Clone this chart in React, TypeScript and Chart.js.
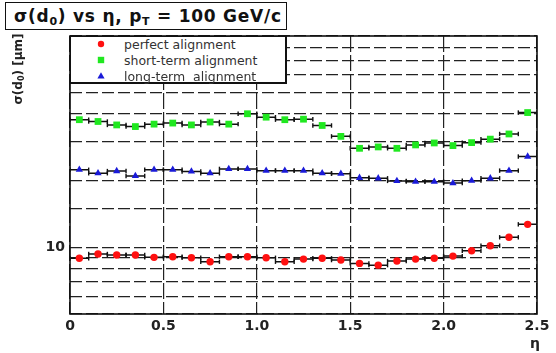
import React, { useEffect, useRef } from 'react';
import { Chart, registerables } from 'chart.js';

Chart.register(...registerables);

const etaBins = [0.05, 0.15, 0.25, 0.35, 0.45, 0.55, 0.65, 0.75, 0.85, 0.95, 1.05, 1.15, 1.25, 1.35, 1.45, 1.55, 1.65, 1.75, 1.85, 1.95, 2.05, 2.15, 2.25, 2.35, 2.45];
const binHalfWidth = 0.05;
const perfectAlignment = [8.92, 9.33, 9.23, 9.23, 9.01, 9.07, 8.97, 8.61, 9.07, 9.07, 8.97, 8.61, 8.85, 8.92, 8.76, 8.46, 8.31, 8.67, 8.85, 8.92, 9.13, 9.65, 10.17, 11.1, 12.7];
const shortTermAlignment = [37.7, 37.0, 35.7, 35.1, 36.0, 36.4, 35.7, 36.8, 36.0, 40.1, 38.7, 37.7, 37.9, 35.5, 31.7, 28.0, 28.4, 28.0, 29.0, 29.6, 28.8, 29.7, 30.8, 32.5, 40.6];
const longTermAlignment = [22.4, 21.6, 22.1, 21.0, 22.4, 22.4, 22.0, 21.6, 22.6, 22.6, 22.2, 22.2, 22.2, 21.6, 21.5, 20.6, 20.5, 19.95, 19.8, 19.8, 19.5, 20.0, 20.5, 22.2, 25.7];
const seriesNames = ['perfect alignment', 'short-term alignment', 'long-term  alignment'];
const xMin = 0;
const xMax = 2.5;
const xStep = 0.5;
const yMin = 5;
const yMax = 90;
const yLabelledTicks = [10];

const RED = '#ff1010';
const GREEN = '#20e820';
const BLUE = '#1a1ad8';

function markerData(values: number[]) {
  return etaBins.map((x, i) => ({ x, y: values[i] }));
}

function stepData(values: number[]) {
  const pts: { x: number; y: number | null }[] = [];
  etaBins.forEach((c, i) => {
    pts.push({ x: c - binHalfWidth, y: values[i] });
    pts.push({ x: c + binHalfWidth, y: values[i] });
    pts.push({ x: c + binHalfWidth, y: null });
  });
  return pts;
}

const framePlugin = {
  id: 'frame',
  afterDraw(chart: any) {
    const { ctx, chartArea } = chart;
    const { left, top, right, bottom } = chartArea;
    ctx.save();
    ctx.strokeStyle = '#111';
    ctx.lineWidth = 1.6;
    ctx.strokeRect(left, top, right - left, bottom - top);
    ctx.restore();
  },
};

function errorDataset(values: number[]) {
  return {
    data: stepData(values),
    showLine: true,
    spanGaps: false,
    borderColor: '#111',
    borderWidth: 1.5,
    pointStyle: 'line',
    rotation: 90,
    pointRadius: 2.2,
    pointBorderColor: '#111',
    pointBorderWidth: 1.4,
    pointHoverRadius: 2.2,
  };
}

export default function App() {
  const ref = useRef<HTMLCanvasElement | null>(null);

  useEffect(() => {
    if (!ref.current) return;
    const chart = new Chart(ref.current, {
      type: 'scatter',
      data: {
        datasets: [
          { label: seriesNames[0], data: markerData(perfectAlignment), pointStyle: 'circle', pointRadius: 3.7, backgroundColor: RED, borderColor: RED, borderWidth: 0 },
          { label: seriesNames[1], data: markerData(shortTermAlignment), pointStyle: 'rect', pointRadius: 4.8, backgroundColor: GREEN, borderColor: GREEN, borderWidth: 0 },
          { label: seriesNames[2], data: markerData(longTermAlignment), pointStyle: 'triangle', pointRadius: 4.2, backgroundColor: BLUE, borderColor: BLUE, borderWidth: 0 },
          errorDataset(perfectAlignment) as any,
          errorDataset(shortTermAlignment) as any,
          errorDataset(longTermAlignment) as any,
        ],
      },
      options: {
        animation: false,
        responsive: true,
        maintainAspectRatio: false,
        layout: { padding: { left: 0, right: 19, top: 36, bottom: 0 } },
        plugins: { legend: { display: false }, title: { display: false }, tooltip: { enabled: false } },
        events: [],
        scales: {
          x: {
            type: 'linear',
            min: xMin,
            max: xMax,
            afterFit: (s: any) => { s.height = 39; },
            ticks: {
              stepSize: xStep,
              padding: 4,
              color: '#222',
              font: { family: 'DejaVu Sans', weight: 'bold', size: 14 },
              maxRotation: 0,
            },
            grid: { color: '#222', lineWidth: 1.2, drawTicks: false },
            border: { display: false, dash: [16, 3] },
          },
          y: {
            type: 'logarithmic',
            min: yMin,
            max: yMax,
            afterFit: (s: any) => { s.width = 70; },
            ticks: {
              autoSkip: false,
              padding: 5,
              color: '#222',
              font: { family: 'DejaVu Sans', weight: 'bold', size: 14 },
              callback: (v: any) => (yLabelledTicks.some((t) => Math.abs(Number(v) - t) < 1e-6) ? String(v) : ''),
            },
            grid: { color: '#222', lineWidth: 1.2, drawTicks: false },
            border: { display: false, dash: [12, 4] },
          },
        },
      } as any,
      plugins: [framePlugin],
    });
    return () => chart.destroy();
  }, []);

  const legendRow = (top: number, marker: React.ReactNode, text: string) => (
    <div style={{ position: 'absolute', left: 0, top, height: 17, width: '100%' }}>
      <svg width={12} height={12} style={{ position: 'absolute', left: 24, top: 2 }}>{marker}</svg>
      <div style={{ position: 'absolute', left: 53, top: 0, lineHeight: '17px', whiteSpace: 'pre', fontFamily: 'DejaVu Sans', fontSize: 12.5, color: '#333' }}>{text}</div>
    </div>
  );

  return (
    <div style={{ position: 'fixed', left: 0, top: 0, width: 556, height: 353, background: '#fff', overflow: 'hidden' }}>
      <canvas ref={ref} />
      {/* title box */}
      <div style={{ position: 'absolute', left: 5, top: 2, width: 280, height: 26, border: '1.6px solid #111', background: '#fff' }}>
        <div style={{ position: 'absolute', left: 8, top: 2, lineHeight: '22px', whiteSpace: 'nowrap', fontFamily: 'DejaVu Sans', fontWeight: 'bold', fontSize: 17, letterSpacing: 0.75, color: '#111' }}>
          σ(d<sub style={{ fontSize: 11, verticalAlign: -3, lineHeight: 0 }}>0</sub>) vs η, p<sub style={{ fontSize: 11, verticalAlign: -3, lineHeight: 0 }}>T</sub> = 100 GeV/c
        </div>
      </div>
      {/* legend box */}
      <div style={{ position: 'absolute', left: 70, top: 36, width: 214, height: 45, borderLeft: '1.6px solid #111', borderTop: '1.6px solid #111', borderRight: '2.6px solid #111', borderBottom: '2.6px solid #111', background: '#fff' }}>
        {legendRow(-1, <circle cx={6} cy={6} r={3.2} fill={RED} />, seriesNames[0])}
        {legendRow(15, <rect x={2.8} y={2.8} width={6.4} height={6.4} fill={GREEN} />, seriesNames[1])}
        {legendRow(31, <polygon points="6,2.2 9.6,8.6 2.4,8.6" fill={BLUE} />, seriesNames[2])}
      </div>
      {/* y axis title */}
      <div style={{ position: 'absolute', left: 18 - 50, top: 69 - 9, width: 100, height: 18, lineHeight: '18px', textAlign: 'center', transform: 'rotate(-90deg)', whiteSpace: 'nowrap', fontFamily: 'DejaVu Sans', fontWeight: 'bold', fontSize: 12, color: '#222' }}>
        σ(d<sub style={{ fontSize: 8, verticalAlign: -2, lineHeight: 0 }}>0</sub>) [μm]
      </div>
      {/* x axis title */}
      <div style={{ position: 'absolute', left: 525, top: 334, width: 20, lineHeight: '18px', textAlign: 'center', fontFamily: 'DejaVu Sans', fontWeight: 'bold', fontSize: 14, color: '#222' }}>η</div>
    </div>
  );
}
